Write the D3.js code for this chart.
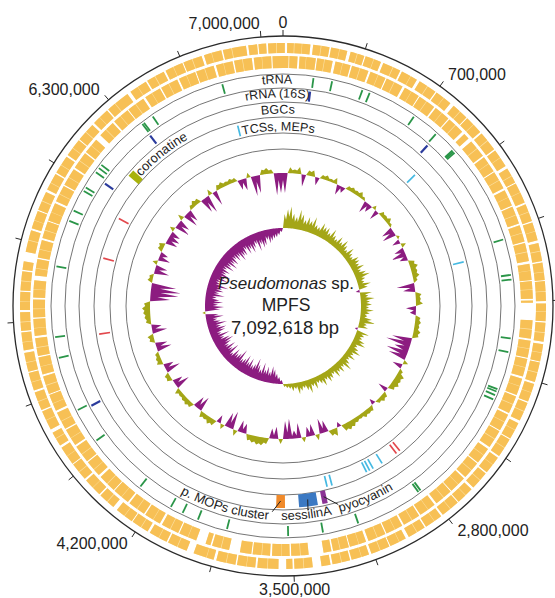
<!DOCTYPE html>
<html>
<head>
<meta charset="utf-8">
<script src="https://cdn.jsdelivr.net/npm/d3@7"></script>
<style>
  body { margin: 0; background: #fff; }
  svg { font-family: "Liberation Sans", Arial, sans-serif; }
</style>
</head>
<body>
<svg class="chart" width="555" height="598"></svg>
<script>
// ---- data ----
var genomeLength = 7092618;                       // bp
var scaleTicks = d3.range(0, genomeLength, 350000);
var labelledTicks = [0, 700000, 2800000, 3500000, 4200000, 6300000, 7000000];

var trackNames = ["tRNA", "rRNA (16S)", "BGCs", "TCSs, MEPs"];

// feature positions in kb
var tRNAPos = [150, 243, 398, 436, 683, 820, 935, 942, 950, 1442, 1620, 1643, 1933, 2001,
  2191, 2203, 2222, 2245, 2823, 2836, 3170, 3349, 3521, 3824, 3974, 4056, 4121, 4301,
  4614, 4790, 5063, 5166, 5515, 5747, 5802, 5910, 5930, 6020, 6045, 6065, 6350, 6360,
  6413, 6791];
var rRNAPos = [142, 827, 4778, 5999, 6345];
var tcsPos = [890, 1503, 2912, 2975, 2999, 3020, 3245, 3276, 6815];
var mepPos = [2780, 2806, 5148, 5613, 5872];

var bgcNames = ["coronatine", "p. MOPs cluster", "sessilinA", "pyocyanin"];
var bgcStart = [6110, 3535, 3350, 3294];
var bgcEnd = [6150, 3585, 3456, 3324];

// CDS gaps [start kb, width kb], forward (outer) and reverse (inner) strand
var fwdGaps = [[8,10],[47,3],[81,2],[118,12],[163,3],[201,7],[244,2],[279,15],[322,3],[355,6],
  [397,2],[431,11],[486,3],[522,8],[571,2],[603,14],[655,3],[698,6],[741,2],[779,18],[832,3],
  [871,5],[913,2],[957,9],[1004,3],[1052,7],[1096,2],[1139,13],[1188,3],[1221,5],[1268,2],
  [1316,9],[1359,3],[1402,6],[1447,2],[1488,12],[1534,3],[1579,7],[1626,2],[1661,5],[1709,3],
  [1752,10],[1797,2],[1839,6],[1886,3],[1927,11],[1974,2],[2013,5],[2061,3],[2104,9],[2151,2],
  [2193,6],[2237,3],[2282,13],[2326,2],[2369,5],[2414,3],[2458,9],[2503,2],[2546,7],[2589,3],
  [2633,11],[2679,2],[2721,5],[2766,3],[2809,9],[2853,2],[2897,7],[2941,3],[2983,15],[3028,2],
  [3071,5],[3117,3],[3159,11],[3203,2],[3248,7],[3291,3],[3332,9],[3380,38],[3455,3],[3497,8],
  [3532,34],[3612,3],[3657,9],[3703,2],[3745,7],[3791,3],[3836,12],[3879,2],[3938,32],[4012,3],
  [4057,7],[4101,2],[4146,11],[4189,3],[4233,5],[4276,2],[4318,20],[4371,3],[4412,7],[4458,2],
  [4501,9],[4547,3],[4589,5],[4633,2],[4677,11],[4722,3],[4752,16],[4811,2],[4853,7],[4898,3],
  [4941,9],[4986,2],[5029,5],[5073,3],[5117,11],[5162,2],[5205,7],[5249,3],[5293,9],[5338,2],
  [5381,5],[5426,3],[5469,7],[5512,42],[5604,3],[5649,9],[5693,2],[5737,5],[5782,3],[5826,11],
  [5869,2],[5913,7],[5957,3],[6001,9],[6046,2],[6089,5],[6134,3],[6177,11],[6221,2],[6265,7],
  [6309,3],[6378,16],[6431,2],[6473,7],[6517,3],[6561,9],[6606,2],[6649,5],[6693,3],[6737,11],
  [6781,2],[6825,7],[6869,3],[6933,10],[6981,6],[7020,8],[7063,3]];
var revGaps = [[25,4],[66,9],[104,2],[149,6],[187,3],[226,13],[271,2],[309,7],[352,3],[394,10],
  [440,2],[477,6],[519,3],[563,12],[608,2],[648,5],[689,3],[733,9],[776,2],[816,6],[858,3],
  [902,14],[944,18],[1002,3],[1046,8],[1089,2],[1131,5],[1177,3],[1219,11],[1265,2],[1306,6],
  [1351,3],[1393,9],[1438,2],[1479,7],[1525,3],[1569,12],[1612,2],[1655,5],[1697,3],[1740,8],
  [1758,80],[1877,3],[1921,9],[1966,2],[2008,6],[2052,3],[2096,11],[2141,2],[2184,7],[2228,3],
  [2272,9],[2317,2],[2360,5],[2405,3],[2449,12],[2494,2],[2537,6],[2581,3],[2624,9],[2669,2],
  [2712,5],[2757,3],[2800,11],[2846,2],[2889,7],[2933,3],[2976,9],[3021,2],[3064,6],[3108,3],
  [3152,12],[3197,2],[3240,5],[3284,3],[3318,8],[3362,68],[3466,3],[3509,7],[3553,2],[3596,9],
  [3641,3],[3684,6],[3742,50],[3828,3],[3871,8],[3902,45],[3986,2],[4029,6],[4073,3],[4117,11],
  [4162,2],[4205,7],[4249,3],[4293,9],[4338,2],[4381,5],[4425,3],[4469,12],[4514,2],[4557,6],
  [4601,3],[4645,9],[4690,2],[4733,7],[4777,3],[4821,11],[4866,2],[4909,5],[4953,3],[4997,9],
  [5042,2],[5085,7],[5129,3],[5173,11],[5218,2],[5261,6],[5305,3],[5349,9],[5394,2],[5436,22],
  [5489,3],[5533,7],[5577,2],[5621,9],[5666,3],[5709,5],[5753,2],[5797,11],[5842,3],[5885,6],
  [5929,2],[5973,9],[6018,3],[6061,7],[6105,2],[6140,28],[6203,3],[6247,9],[6292,2],[6335,5],
  [6379,3],[6423,11],[6468,2],[6511,7],[6555,3],[6599,9],[6644,2],[6687,5],[6731,3],[6775,11],
  [6820,2],[6863,7],[6907,3],[6951,9],[6996,2],[7039,6]];

// GC content deviation and GC skew, 180 windows clockwise from 0
var gcContent = [
  -20, 6, 4, 7, -12,   5, 6, -8, 4, 5,   3, 6, -10, -6, 4,   5, 4, 6, 3, -12,
  -8, 4, -10, 5, 4,   6, 3, -12, -14, 3,   -8, 5, -10, -15, -8,   6, 8, 6, 7, 4,
  -18, -12, 6, 5, 7,   -10, -6, 5, 6, 5,   7, 6, -20, -25, -15,   -22, -18, 5, -10, 4,
  8, 7, 8, 6, -10,   5, 6, 4, -6, 5,   5, 6, 4, 5, 7,   8, 7, -5, 8, 6,
  -12, -15, 6, -12, -10,   5, -15, -8, -20, -18,   5, -12, -10, 6, 8,   8, 7, 6, -10, -12,
  6, -18, -15, 5, -8,   6, 7, 5, 6, -15,   -12, 5, 6, 5, 4,   6, -15, -10, 5, 5,
  -15, -10, 6, 5, 4,   -15, -12, 5, 6, -15,   -10, 5, 6, 7, 8,   6, -20, -28, -30, -25,
  5, 4, -15, -12, 5,   -12, -8, 5, 6, -12,   -12, -10, 5, -15, -12,   6, -15, -12, 4, 6,
  5, -15, -18, 6, -15,   5, 6, 4, 5, 4,   -10, -12, 5, -20, -18,   5, 6, 4, -22, -20];
var gcSkew = [
  14, 19, 22, 15, 12, 20, 16, 11, 15, 12, 17, 10, 9, 15, 12,
  13, 9, 15, 10, 8, 13, 9, 14, 10, 7, 13, 9, 7, 12, 11,
  9, 13, 8, 12, 15, 9, 7, 13, 9, -4, 12, 8, 14, 9, 11,
  8, 13, 9, 7, 12, 16, 8, 10, -3, 13, 9, 8, 12, 14, 7,
  10, 14, 8, 12, 7, 10, 15, 8, 12, 9, 13, 7, 10, 12, 8,
  13, 9, 7, 12, 8, 14, 10, 7, 9, 12, 6, 8, 5, 4, 3,
  -4, -7, -10, -14, -17, -11, -16, -12, -19, -11, -15, -21, -14, -12, -18,
  -13, -19, -14, -12, -21, -15, -13, -17, -10, -19, -13, -18, -12, -16, -20,
  -17, -12, -19, -11, -16, -18, -13, -20, -14, -11, -18, -13, 3, -15, -19,
  -13, -18, -14, -11, -19, -13, -17, -15, -21, -12, -11, -18, -14, -19, -13,
  -16, -11, -18, -13, -19, -14, -17, -12, -16, -13, -19, -15, -16, -11, -17,
  -13, -18, -14, -11, -19, -13, -17, -15, -10, -14, -12, -10, -9, -7, -4];

// ---- layout ----
var cx = 283, cy = 306;
var genomeKb = genomeLength / 1000;
var angle = d3.scaleLinear().domain([0, genomeKb]).range([0, 2 * Math.PI]);
var rGC = d3.scaleLinear().domain([-30, 10]).range([103, 143]);
var rSkew = d3.scaleLinear().domain([-20, 20]).range([58, 98]);

var colors = {
  cds: "#f7c055", cdsPale: "#fbe0a4", tRNA: "#2a9548", rRNA: "#2b3b9c", tcs: "#45b9e2", mep: "#e2474c",
  gcPos: "#a4a617", gcNeg: "#8c1c80",
  bgc: { "coronatine": "#a8b20c", "p. MOPs cluster": "#f08a2a", "sessilinA": "#3b79c3", "pyocyanin": "#8b3395" }
};

var svg = d3.select(".chart");
var g = svg.append("g").attr("transform", "translate(" + cx + "," + cy + ")");
var defs = svg.append("defs");

function pt(a, r) { return [r * Math.sin(a), -r * Math.cos(a)]; }
function deg(d) { return d * Math.PI / 180; }

// scale circle + ticks
g.append("circle").attr("r", 270).attr("fill", "none").attr("stroke", "#2b2b2b").attr("stroke-width", 1.3);
g.selectAll(".tick").data(scaleTicks).enter().append("line")
  .attr("class", "tick")
  .attr("x1", function(d) { return pt(angle(d / 1000), 270)[0]; })
  .attr("y1", function(d) { return pt(angle(d / 1000), 270)[1]; })
  .attr("x2", function(d) { return pt(angle(d / 1000), 276)[0]; })
  .attr("y2", function(d) { return pt(angle(d / 1000), 276)[1]; })
  .attr("stroke", "#2b2b2b").attr("stroke-width", 1);
g.selectAll(".tickLabel").data(labelledTicks).enter().append("text")
  .attr("class", "tickLabel")
  .attr("x", function(d) { return pt(angle(d / 1000), 284)[0]; })
  .attr("y", function(d) { return pt(angle(d / 1000), 284)[1]; })
  .attr("dy", "0.35em")
  .attr("text-anchor", function(d) {
    var s = Math.sin(angle(d / 1000));
    return Math.abs(s) < 0.05 ? "middle" : (s > 0 ? "start" : "end");
  })
  .attr("font-size", 16).attr("fill", "#222")
  .text(d3.format(","));

// CDS rings: pale gene boundaries show through the narrow gaps
function segmentsFromGaps(gaps) {
  var segs = [], start = 0;
  gaps.forEach(function(gp) { segs.push([start, gp[0]]); start = gp[0] + gp[1]; });
  segs.push([start, genomeKb]);
  return segs.filter(function(s) { return s[1] > s[0]; });
}
function drawCds(gaps, r0, r1) {
  var arc = d3.arc().innerRadius(r0).outerRadius(r1);
  var wide = gaps.filter(function(gp) { return gp[1] > 3; });
  var layer = g.append("g");
  layer.selectAll(".pale").data(segmentsFromGaps(wide)).enter().append("path")
    .attr("class", "pale")
    .attr("d", function(s) { return arc({ startAngle: angle(s[0]), endAngle: angle(s[1]) }); })
    .attr("fill", colors.cdsPale);
  layer.selectAll(".gene").data(segmentsFromGaps(gaps)).enter().append("path")
    .attr("class", "gene")
    .attr("d", function(s) { return arc({ startAngle: angle(s[0]), endAngle: angle(s[1]) }); })
    .attr("fill", colors.cds);
}
drawCds(fwdGaps, 253, 263);
drawCds(revGaps, 238, 250);

// feature ring outlines
[232, 218, 204, 189, 173, 157].forEach(function(r) {
  g.append("circle").attr("r", r).attr("fill", "none").attr("stroke", "#3a3a3a").attr("stroke-width", 0.7);
});

function drawTicks(list, r0, r1, color, w) {
  g.append("g").selectAll("line").data(list).enter().append("line")
    .attr("x1", function(d) { return pt(angle(d), r0)[0]; })
    .attr("y1", function(d) { return pt(angle(d), r0)[1]; })
    .attr("x2", function(d) { return pt(angle(d), r1)[0]; })
    .attr("y2", function(d) { return pt(angle(d), r1)[1]; })
    .attr("stroke", color).attr("stroke-width", w);
}
drawTicks(tRNAPos, 220, 230, colors.tRNA, 1.8);
drawTicks(rRNAPos, 206, 216, colors.rRNA, 2.2);
drawTicks(tcsPos, 175, 186, colors.tcs, 1.7);
drawTicks(mepPos, 175, 186, colors.mep, 1.7);

// BGC blocks
var bgcArc = d3.arc().innerRadius(189).outerRadius(202);
g.append("g").selectAll("path").data(bgcNames).enter().append("path")
  .attr("d", function(d, i) { return bgcArc({ startAngle: angle(bgcStart[i]), endAngle: angle(bgcEnd[i]) }); })
  .attr("fill", function(d) { return colors.bgc[d]; });

// curved text helper
function arcPath(id, r, a0, a1, sweep) {
  var p0 = pt(a0, r), p1 = pt(a1, r);
  defs.append("path").attr("id", id)
    .attr("d", "M" + (cx + p0[0]) + "," + (cy + p0[1]) + " A" + r + "," + r + " 0 0 " + sweep + " " + (cx + p1[0]) + "," + (cy + p1[1]));
}

// track labels at the top
var trackLabelR = [222.5, 208.5, 192.5, 175.5];
trackNames.forEach(function(name, i) {
  arcPath("trk" + i, trackLabelR[i], deg(-60), deg(60), 1);
  svg.append("text").attr("font-size", 12.5).attr("fill", "#222")
    .append("textPath").attr("href", "#trk" + i)
    .attr("startOffset", ((60 - 1.5) / 120 * 100) + "%").attr("text-anchor", "middle")
    .text(name);
});

// BGC labels
arcPath("lblCor", 192, deg(300), deg(350), 1);
svg.append("text").attr("font-size", 13).attr("fill", "#222")
  .append("textPath").attr("href", "#lblCor")
  .attr("startOffset", 192 * deg(12.3))
  .text(bgcNames[0]);

arcPath("lblBottom", 214, deg(225), deg(135), 0);
var bottomCentres = [196.3, 173.6, 156.8];
[1, 2, 3].forEach(function(k, j) {
  svg.append("text").attr("font-size", 13).attr("fill", "#222")
    .append("textPath").attr("href", "#lblBottom")
    .attr("startOffset", 214 * deg(225 - bottomCentres[j])).attr("text-anchor", "middle")
    .text(bgcNames[k]);
});
// leader lines
var leaderShift = [2.3, 0.3, -3.5];
[1, 2, 3].forEach(function(k, j) {
  var mid = angle((bgcStart[k] + bgcEnd[k]) / 2);
  var a = pt(mid, 195), b = pt(mid + deg(leaderShift[j]), 206);
  g.append("line").attr("x1", a[0]).attr("y1", a[1]).attr("x2", b[0]).attr("y2", b[1])
    .attr("stroke", "#222").attr("stroke-width", 1);
});

// GC content / GC skew rings
// window centres plus a point on each window boundary, pulled toward the baseline
function ringPoints(values, kPos, kNeg) {
  var n = values.length, w = genomeKb / n, pts = [];
  for (var i = -1; i <= n; i++) {
    var v = values[(i + n) % n], next = values[(i + 1 + n) % n];
    pts.push({ pos: (i + 0.5) * w, v: v });
    var b = 0;
    if (v > 0 && next > 0) b = kPos * Math.min(v, next);
    if (v < 0 && next < 0) b = kNeg * Math.max(v, next);
    pts.push({ pos: (i + 1) * w, v: b });
  }
  return pts;
}
function drawRing(values, rs, kPos, kNeg) {
  var data = ringPoints(values, kPos, kNeg);
  var pos = d3.areaRadial()
    .angle(function(d) { return angle(d.pos); })
    .innerRadius(rs(0))
    .outerRadius(function(d) { return rs(Math.max(d.v, 0)); });
  var neg = d3.areaRadial()
    .angle(function(d) { return angle(d.pos); })
    .innerRadius(function(d) { return rs(Math.min(d.v, 0)); })
    .outerRadius(rs(0));
  g.append("path").attr("d", pos(data)).attr("fill", colors.gcPos);
  g.append("path").attr("d", neg(data)).attr("fill", colors.gcNeg);
}
drawRing(gcContent, rGC, 0.8, 0.35);
drawRing(gcSkew, rSkew, 0.6, 0.6);

// centre title
var title = g.append("text").attr("text-anchor", "middle").attr("font-size", 17).attr("fill", "#222");
title.append("tspan").attr("x", 3).attr("y", -17).attr("font-style", "italic").text("Pseudomonas");
title.append("tspan").text(" sp.");
g.append("text").attr("text-anchor", "middle").attr("font-size", 17.5).attr("fill", "#222")
  .attr("x", 3).attr("y", 5).text("MPFS");
g.append("text").attr("text-anchor", "middle").attr("font-size", 18.5).attr("fill", "#222")
  .attr("x", 2).attr("y", 28).text("7,092,618 bp");
</script>
</body>
</html>
